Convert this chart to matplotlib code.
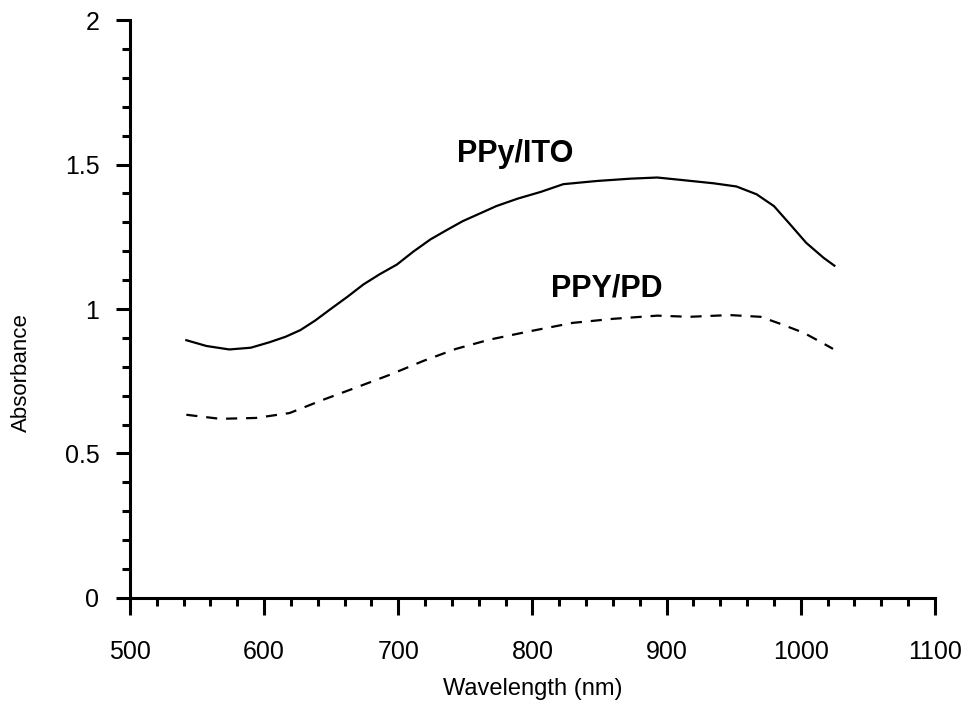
import numpy as np
import matplotlib.pyplot as plt
from matplotlib.ticker import MultipleLocator, FormatStrFormatter

plt.rcParams['font.family'] = ['Liberation Sans', 'DejaVu Sans']

# PPy/ITO absorbance spectrum (solid line)
ito_wl = [542, 557, 574, 590, 604, 616, 627, 638, 649, 662, 674, 686, 699, 711,
          724, 736, 748, 761, 773, 789, 806, 823, 848, 873, 893, 910, 935, 952,
          967, 980, 992, 1004, 1017, 1025]
ito_abs = [0.892, 0.872, 0.860, 0.866, 0.885, 0.904, 0.927, 0.960, 0.998, 1.042,
           1.085, 1.120, 1.154, 1.198, 1.241, 1.273, 1.304, 1.331, 1.356, 1.382,
           1.405, 1.432, 1.443, 1.451, 1.455, 1.447, 1.435, 1.424, 1.397, 1.356,
           1.293, 1.229, 1.177, 1.150]

# PPY/PD absorbance spectrum (dashed line)
pd_wl = [542, 567, 594, 619, 644, 669, 694, 719, 743, 768, 798, 830, 860, 893,
         917, 947, 970, 984, 1002, 1014, 1024]
pd_abs = [0.634, 0.620, 0.623, 0.640, 0.686, 0.729, 0.773, 0.821, 0.862, 0.894,
          0.923, 0.952, 0.966, 0.977, 0.973, 0.979, 0.973, 0.950, 0.918, 0.888,
          0.862]

fig = plt.figure(figsize=(9.65, 7.05), dpi=100)
ax = fig.add_axes([0.1347, 0.1518, 0.8342, 0.8198])

ax.plot(ito_wl, ito_abs, color='black', lw=1.6)
ax.plot(pd_wl, pd_abs, color='black', lw=1.6, linestyle=(0, (5, 4)))

ax.text(787, 1.508, 'PPy/ITO', ha='center', va='baseline',
        fontsize=22, fontweight='bold')
ax.text(855, 1.043, 'PPY/PD', ha='center', va='baseline',
        fontsize=22, fontweight='bold')

ax.set_xlim(500, 1100)
ax.set_ylim(0, 2)
ax.xaxis.set_major_locator(MultipleLocator(100))
ax.xaxis.set_minor_locator(MultipleLocator(20))
ax.yaxis.set_major_locator(MultipleLocator(0.5))
ax.yaxis.set_minor_locator(MultipleLocator(0.1))
ax.yaxis.set_major_formatter(FormatStrFormatter('%g'))

for side in ['top', 'right']:
    ax.spines[side].set_visible(False)
for side in ['left', 'bottom']:
    ax.spines[side].set_linewidth(2.2)

ax.tick_params(axis='both', which='major', direction='out', width=2.2,
               labelsize=18)
ax.tick_params(axis='x', which='major', length=12, pad=18)
ax.tick_params(axis='x', which='minor', length=6, width=2.2, direction='out')
ax.tick_params(axis='y', which='major', length=10, pad=12)
ax.tick_params(axis='y', which='minor', length=6, width=2.2, direction='out')

ax.set_xlabel('Wavelength (nm)', fontsize=17)
ax.set_ylabel('Absorbance', fontsize=16)
ax.xaxis.set_label_coords(0.5, -0.138)
ax.yaxis.set_label_coords(-0.122, 0.39)

fig.savefig('out.png', dpi=100)
